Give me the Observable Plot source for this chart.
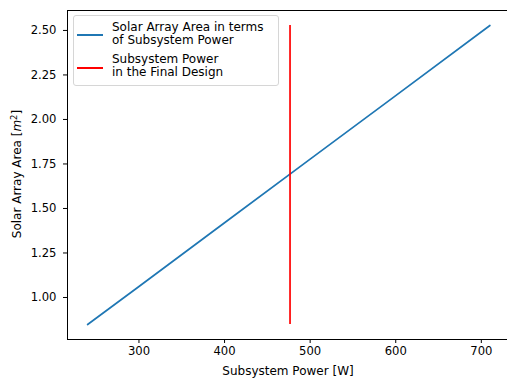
<!DOCTYPE html>
<html>
<head>
<meta charset="utf-8">
<script src="https://cdn.jsdelivr.net/npm/d3@7"></script>
<script src="https://cdn.jsdelivr.net/npm/@observablehq/plot@0.6"></script>
<style>
  html, body { margin: 0; padding: 0; background: #fff; overflow: hidden; }
  #wrap { position: relative; width: 507px; height: 380px; overflow: hidden;
          font-family: "DejaVu Sans", sans-serif; color: #000; }
  #wrap svg { position: absolute; left: 0; top: 0; max-width: none !important; }
  .lbl { position: absolute; font-size: 12px; line-height: 1; white-space: nowrap; }
  .legend { position: absolute; left: 73px; top: 15px; width: 206px; height: 71px;
            border: 1px solid #d6d6d6; border-radius: 3px; background: rgba(255,255,255,0.8);
            box-sizing: border-box; }
  .leg-text { position: absolute; font-size: 12px; line-height: 13.8px; white-space: nowrap; }
  .swatch { position: absolute; height: 2px; width: 26px; }
</style>
</head>
<body>
<div id="wrap"></div>
<script>
// Solar array area as a function of subsystem power
const power = [240, 300, 400, 500, 600, 710];
const area = [0.848, 1.062, 1.420, 1.777, 2.134, 2.528];

// Subsystem power chosen in the final design
const designPower = [476.5];

const yTicks = [1.00, 1.25, 1.50, 1.75, 2.00, 2.25, 2.50];
const xTicks = [300, 400, 500, 600, 700];

const seriesNames = ["Solar Array Area in terms\nof Subsystem Power", "Subsystem Power\nin the Final Design"];
const seriesColors = ["#1f77b4", "#ff0000"];

const curve = power.map((p, i) => ({power: p, area: area[i]}));
const aMin = d3.min(area), aMax = d3.max(area);
const pMin = d3.min(power), pMax = d3.max(power);
const aPad = (aMax - aMin) * 0.05, pPad = (pMax - pMin) * 0.05;

const chart = Plot.plot({
  width: 510,
  height: 380,
  marginLeft: 67,
  marginRight: 0.5,
  marginTop: 10,
  marginBottom: 41,
  style: {fontFamily: "DejaVu Sans, sans-serif", fontSize: "11.6px", color: "#000",
          background: "transparent", maxWidth: "none"},
  x: {domain: [pMin - pPad, pMax + pPad]},
  y: {domain: [aMin - aPad, aMax + aPad]},
  marks: [
    Plot.axisX({ticks: xTicks, tickSize: 4, tickPadding: 3, label: null, tickFormat: d3.format("d")}),
    Plot.axisY({ticks: yTicks, tickSize: 4, tickPadding: 7, label: null, tickFormat: d3.format(".2f")}),
    Plot.line(curve, {x: "power", y: "area", stroke: seriesColors[0], strokeWidth: 1.7}),
    Plot.ruleX(designPower, {x: d => d, y1: aMin, y2: aMax, stroke: seriesColors[1], strokeWidth: 1.7}),
    Plot.frame({stroke: "#000", strokeWidth: 1})
  ]
});

const wrap = document.getElementById("wrap");
wrap.appendChild(chart);

// Axis titles
const xl = document.createElement("div");
xl.className = "lbl";
xl.textContent = "Subsystem Power [W]";
xl.style.left = "288px"; xl.style.top = "365px"; xl.style.transform = "translateX(-50%)";
wrap.appendChild(xl);

const yl = document.createElement("div");
yl.className = "lbl";
yl.innerHTML = "Solar Array Area [<i>m</i><sup style=\"font-size:8.5px;vertical-align:4px\">2</sup>]";
yl.style.left = "16px"; yl.style.top = "174px";
yl.style.transform = "translate(-50%, -50%) rotate(-90deg)";
wrap.appendChild(yl);

// Legend
const legend = document.createElement("div");
legend.className = "legend";
wrap.appendChild(legend);
const entryTop = [20.5, 52.5];
const swatchY = [34, 67];
seriesNames.forEach((name, i) => {
  const sw = document.createElement("div");
  sw.className = "swatch";
  sw.style.background = seriesColors[i];
  sw.style.left = "77px";
  sw.style.top = swatchY[i] + "px";
  wrap.appendChild(sw);
  const t = document.createElement("div");
  t.className = "leg-text";
  t.style.left = "112px";
  t.style.top = entryTop[i] + "px";
  t.innerHTML = name.split("\n").join("<br>");
  wrap.appendChild(t);
});
</script>
</body>
</html>
